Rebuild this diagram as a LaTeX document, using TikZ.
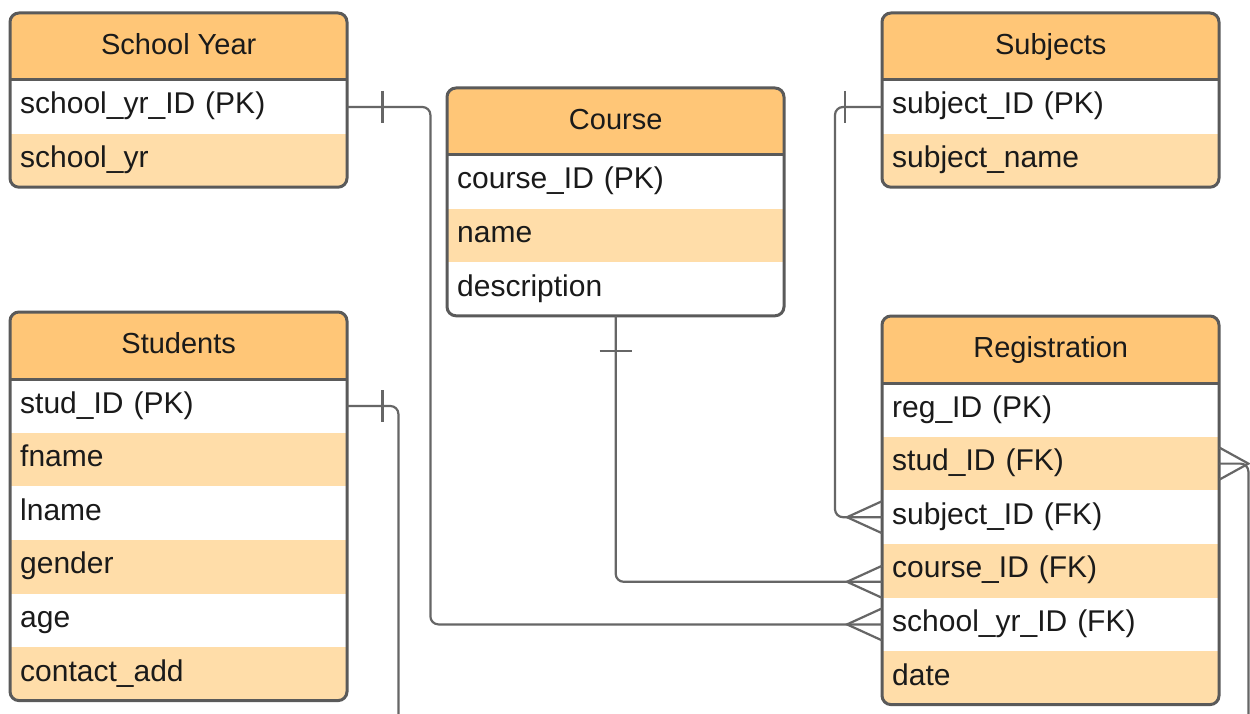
\documentclass[tikz,border=0pt]{standalone}
\usepackage{fontspec}
\setmainfont{Liberation Sans}
\definecolor{hdrc}{HTML}{FFC677}
\definecolor{rowc}{HTML}{FFDDA9}
\definecolor{edgec}{HTML}{5A5A5A}
\definecolor{connc}{HTML}{666666}
\definecolor{txtc}{HTML}{1A1A1A}
\tikzset{
  hdrbox/.style={rectangle, fill=hdrc, anchor=north west, minimum width=337pt, minimum height=67pt,
    inner sep=0pt, text height=20pt, text depth=5pt, text=txtc, font=\fontsize{29}{34}\selectfont},
  rowbox/.style={rectangle, anchor=north west, minimum width=337pt, minimum height=53.6pt,
    inner xsep=10pt, inner ysep=0pt, text width=317pt, align=left, text height=20pt, text depth=6pt,
    text=txtc, font=\fontsize{30}{35}\selectfont},
  tabline/.style={draw=edgec, line width=3pt},
  conn/.style={draw=connc, line width=2.2pt, rounded corners=8pt},
  tick/.style={draw=connc, line width=2.2pt},
}
\newcommand\ertab[6]{%
  \pgfmathsetmacro\tabh{67+53.6*#5}
  \begin{scope}
    \clip[rounded corners=9pt] (#2,#3) rectangle ++(337,\tabh);
    \node[hdrbox] (#1) at (#2,#3) {#4};
    \foreach \r [count=\i] in {#6} {
      \pgfmathsetmacro\yy{#3+67+53.6*(\i-1)}
      \ifodd\i
        \node[rowbox, fill=white] (#1-\i) at (#2,\yy) {\r};
      \else
        \node[rowbox, fill=rowc] (#1-\i) at (#2,\yy) {\r};
      \fi
    }
  \end{scope}
  \draw[tabline, rounded corners=9pt] (#2,#3) rectangle ++(337,\tabh);
  \draw[tabline] (#2,#3+67) -- ++(337,0);
}
\newcommand\crowL[1]{\draw[tick] ([yshift=16pt]#1) -- ([xshift=-35pt]#1) -- ([yshift=-16pt]#1);}
\newcommand\crowR[1]{\draw[tick] ([yshift=16pt]#1) -- ([xshift=29pt]#1) -- ([yshift=-16pt]#1);}
\begin{document}
\begin{tikzpicture}[x=1pt,y=-1pt]
\useasboundingbox (0,0) rectangle (1250,714);
\clip (0,0) rectangle (1250,714);
\fill[white] (0,0) rectangle (1250,714);

\ertab{sy}{10}{13}{School Year}{2}{school\_yr\_ID (PK),school\_yr}
\ertab{co}{447}{88}{Course}{3}{course\_ID (PK),name,description}
\ertab{sub}{882}{13}{Subjects}{2}{subject\_ID (PK),subject\_name}
\ertab{st}{10}{312}{Students}{6}{stud\_ID (PK),fname,lname,gender,age,contact\_add}
\ertab{reg}{882}{316}{Registration}{6}{reg\_ID (PK),stud\_ID (FK),subject\_ID (FK),course\_ID (FK),school\_yr\_ID (FK),date}

% School Year -> Registration
\draw[conn] (sy-1.east) -- ++(83,0) |- (reg-5.west);
\draw[tick] ([xshift=35pt,yshift=16pt]sy-1.east) -- ([xshift=35pt,yshift=-16pt]sy-1.east);
\crowL{reg-5.west}

% Students -> Registration (around the bottom)
\draw[conn] (st-1.east) -- ++(51,0) -- ++(0,340) -| ([xshift=29pt]reg-2.east) -- (reg-2.east);
\draw[tick] ([xshift=35pt,yshift=16pt]st-1.east) -- ([xshift=35pt,yshift=-16pt]st-1.east);
\crowR{reg-2.east}

% Subjects -> Registration
\draw[conn] (sub-1.west) -- ++(-47,0) |- (reg-3.west);
\draw[tick] ([xshift=-37pt,yshift=16pt]sub-1.west) -- ([xshift=-37pt,yshift=-16pt]sub-1.west);
\crowL{reg-3.west}

% Course -> Registration
\coordinate (coin) at ([yshift=-11pt]reg-4.west);
\draw[conn] (co-3.south) |- (coin);
\draw[tick] ([xshift=-16pt,yshift=-35pt]co-3.south) -- ([xshift=16pt,yshift=-35pt]co-3.south);
\crowL{coin}
\end{tikzpicture}
\end{document}
